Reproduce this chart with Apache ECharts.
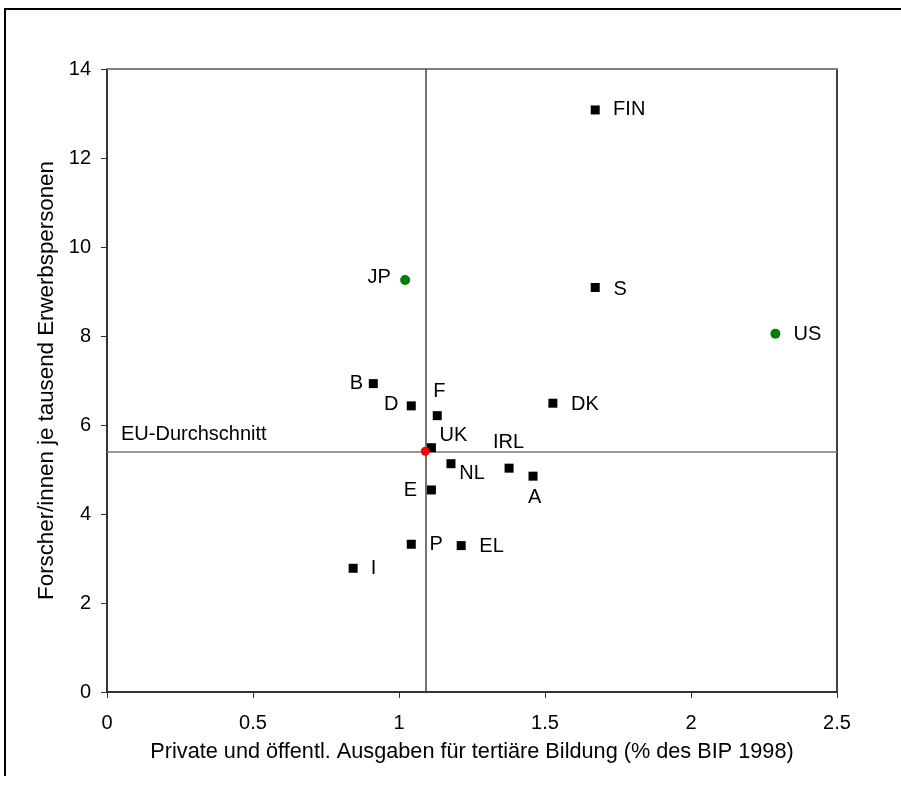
<!DOCTYPE html>
<html>
<head>
<meta charset="utf-8">
<script src="https://cdn.jsdelivr.net/npm/echarts@6/dist/echarts.min.js"></script>
<style>
html,body{margin:0;padding:0;background:#fff;}
#chart{width:901px;height:794px;}
</style>
</head>
<body>
<div id="chart"></div>
<script>
// ---- data ----
const euCountries = ['FIN','S','DK','B','D','F','UK','IRL','NL','A','E','P','EL','I'];
const euX = [1.672, 1.672, 1.527, 0.912, 1.042, 1.131, 1.111, 1.377, 1.178, 1.459, 1.111, 1.042, 1.213, 0.843];
const euY = [13.08, 9.09, 6.49, 6.93, 6.43, 6.21, 5.49, 5.03, 5.13, 4.85, 4.54, 3.32, 3.29, 2.78];
const otherCountries = ['JP','US'];
const otherX = [1.021, 2.289];
const otherY = [9.26, 8.05];
const euAvgX = 1.09;
const euAvgY = 5.41;
const euAvgLabel = 'EU-Durchschnitt';
const xTicks = [0, 0.5, 1, 1.5, 2, 2.5];
const yTicks = [0, 2, 4, 6, 8, 10, 12, 14];
const xTitle = 'Private und öffentl. Ausgaben für tertiäre Bildung (% des BIP 1998)';
const yTitle = 'Forscher/innen je tausend Erwerbspersonen';

// ---- label placement (style) ----
const labelOffsets = {
  FIN:[34,0], S:[25,1.5], DK:[32,1.5], B:[-17,0], D:[-20,-1.5], F:[2,-24],
  UK:[22,-12], IRL:[-0.5,-25.8], NL:[21,9.8], A:[1.7,21.3], E:[-21,1],
  P:[25,0.5], EL:[30.4,0.8], I:[20.4,-0.3], JP:[-26,-2.5], US:[32,0.5]
};
const FONT = 'Liberation Sans, Arial, sans-serif';

function mkPoints(names, xs, ys){
  return names.map((n,i)=>({
    name:n, value:[xs[i], ys[i]],
    label:{show:true, formatter:n, position:'inside', offset:labelOffsets[n],
      color:'#000', fontSize:20, fontFamily:FONT}
  }));
}

const chart = echarts.init(document.getElementById('chart'), null, {renderer:'canvas'});
const baseAxis = {
  axisLabel:{show:false}, axisTick:{show:false}, splitLine:{show:false}
};
chart.setOption({
  animation:false,
  backgroundColor:'#fff',
  textStyle:{fontFamily:FONT},
  grid:{left:107, top:69, right:64, bottom:102, containLabel:false},
  xAxis:[{
    type:'value', min:xTicks[0], max:xTicks[xTicks.length-1], interval:0.5,
    name:xTitle, nameLocation:'middle', nameGap:49,
    nameTextStyle:{fontSize:21.7, color:'#000', fontFamily:FONT},
    axisLine:{show:true, onZero:false, lineStyle:{color:'#333', width:2}},
    axisTick:{show:true, inside:false, length:6, lineStyle:{color:'#333', width:1}},
    axisLabel:{show:true, margin:21, fontSize:20, color:'#000', fontFamily:FONT},
    splitLine:{show:false}
  },{
    type:'value', position:'top', min:0, max:2.5, ...baseAxis,
    axisLine:{show:true, onZero:false, lineStyle:{color:'#808080', width:2}}
  }],
  yAxis:[{
    type:'value', min:yTicks[0], max:yTicks[yTicks.length-1], interval:2,
    name:yTitle, nameLocation:'middle', nameGap:48, nameRotate:90,
    nameTextStyle:{fontSize:22.3, color:'#000', fontFamily:FONT},
    axisLine:{show:true, onZero:false, lineStyle:{color:'#333', width:2}},
    axisTick:{show:true, inside:false, length:6, lineStyle:{color:'#333', width:1}},
    axisLabel:{show:true, margin:16, fontSize:20, color:'#000', fontFamily:FONT},
    splitLine:{show:false}
  },{
    type:'value', position:'right', min:0, max:14, ...baseAxis,
    axisLine:{show:true, onZero:false, lineStyle:{color:'#000', width:1.5}}
  }],
  series:[
    {
      type:'scatter', name:'EU', symbol:'rect', symbolSize:9,
      itemStyle:{color:'#000', opacity:1},
      data:mkPoints(euCountries, euX, euY),
      z:5
    },
    {
      type:'scatter', name:'Andere', symbol:'circle', symbolSize:10,
      itemStyle:{color:'#008000', opacity:1},
      data:mkPoints(otherCountries, otherX, otherY),
      z:5
    },
    {
      type:'scatter', name:'EU-Durchschnitt', symbol:'circle', symbolSize:9,
      itemStyle:{color:'#ff0000', opacity:1},
      data:[[euAvgX, euAvgY]],
      z:6,
      markLine:{
        silent:true, symbol:['none','none'], animation:false,
        data:[
          {xAxis:euAvgX, lineStyle:{color:'#444', width:1.5, type:'solid'}, label:{show:false}},
          {yAxis:euAvgY, lineStyle:{color:'#777', width:1.5, type:'solid'},
           label:{show:true, formatter:euAvgLabel, position:'insideStartTop',
             distance:[14,7], color:'#000', fontSize:20, fontFamily:FONT}}
        ]
      }
    }
  ],
  graphic:[
    {type:'line', shape:{x1:4, y1:9, x2:901, y2:9}, style:{stroke:'#000', lineWidth:2}, silent:true},
    {type:'line', shape:{x1:5, y1:9, x2:5, y2:776}, style:{stroke:'#000', lineWidth:2}, silent:true}
  ]
});
</script>
</body>
</html>
